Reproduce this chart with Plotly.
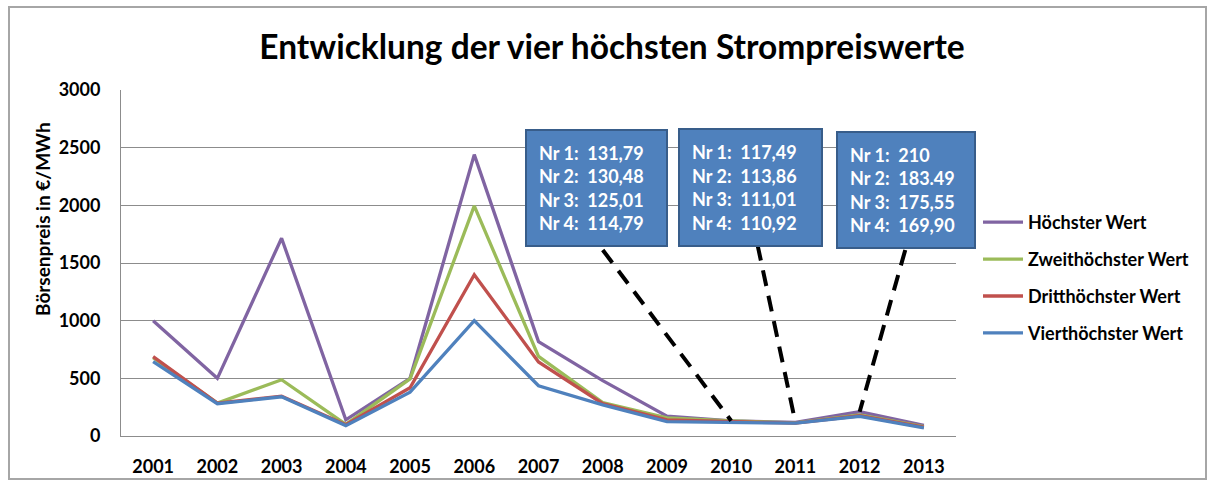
import plotly.graph_objects as go

years = ["2001", "2002", "2003", "2004", "2005", "2006", "2007",
         "2008", "2009", "2010", "2011", "2012", "2013"]

hoechster = [1000, 500, 1715, 140, 500, 2440, 818, 480, 172, 131.79, 117.49, 210, 92]
zweithoechster = [680, 285, 488, 100, 495, 1995, 690, 290, 158, 130.48, 113.86, 183.49, 82]
dritthoechster = [688, 285, 345, 98, 418, 1398, 642, 280, 140, 125.01, 111.01, 175.55, 76]
vierthoechster = [645, 280, 340, 90, 380, 1000, 436, 270, 124, 114.79, 110.92, 169.90, 70]

series_names = ["Höchster Wert", "Zweithöchster Wert", "Dritthöchster Wert", "Vierthöchster Wert"]
series_colors = ["#8064A2", "#9BBB59", "#C0504D", "#4F81BD"]

box_texts = [
    ["131,79", "130,48", "125,01", "114,79"],
    ["117,49", "113,86", "111,01", "110,92"],
    ["210", "183.49", "175,55", "169,90"],
]
box_years = ["2010", "2011", "2012"]

FONT = "Lato"
W, H = 1212, 483
L, R, T, B = 121, 956, 90, 436


def px2paper(px, py):
    return (px - L) / (R - L), (B - py) / (B - T)


fig = go.Figure()
for name, vals, col in zip(series_names, [hoechster, zweithoechster, dritthoechster, vierthoechster], series_colors):
    fig.add_trace(go.Scatter(x=years, y=vals, mode="lines", name=name,
                             legendgroup=name,
                             line=dict(color=col, width=3.3)))

# annotation boxes
box_geom = [(525, 129, 143, 118), (678, 128, 145, 119), (836, 131, 140, 118)]
annotations = []
pad = 12
bw = 2
for (bx, by, bwid, bhei), vals in zip(box_geom, box_texts):
    text = "<br>".join(f"Nr\u00a0{i+1}:\u00a0\u00a0{v}" for i, v in enumerate(vals))
    ax_, ay_ = px2paper(bx, by)
    annotations.append(dict(
        xref="paper", yref="paper", x=ax_, y=ay_, xanchor="left", yanchor="top",
        text=text, showarrow=False, align="left", valign="middle",
        width=bwid - 2 * pad - 2 * bw, height=bhei - 2 * pad - 2 * bw,
        bgcolor="#4F81BD", bordercolor="#385D8A", borderwidth=bw, borderpad=pad,
        font=dict(family=FONT, size=18, color="white", weight="bold"),
    ))

# y axis title as annotation
tx, ty = px2paper(43, 219)
annotations.append(dict(
    xref="paper", yref="paper", x=tx, y=ty, xanchor="center", yanchor="middle",
    text="Börsenpreis in €/MWh", textangle=-90, showarrow=False,
    font=dict(family=FONT, size=19, color="black", weight="bold"),
))

# dashed leader lines: from box bottom to data point
leader_tops = [(7.0, 1613), (9.41, 1657), (11.71, 1613)]
shapes = []
for (x0, y0), yr in zip(leader_tops, box_years):
    idx = years.index(yr)
    shapes.append(dict(type="line", xref="x", yref="y", x0=x0, y0=y0,
                       x1=idx, y1=hoechster[idx],
                       line=dict(color="black", width=4, dash="16px,10px")))

# outer chart frame
fx0, fy0 = px2paper(9, 7)
fx1, fy1 = px2paper(1206, 479)
shapes.append(dict(type="rect", xref="paper", yref="paper", x0=fx0, y0=fy1, x1=fx1, y1=fy0,
                   line=dict(color="#A6A6A6", width=2), layer="below"))

lx, ly = px2paper(978, 204)

fig.update_layout(
    width=W, height=H,
    margin=dict(l=L, r=W - R, t=T, b=H - B, pad=0, autoexpand=False),
    paper_bgcolor="white", plot_bgcolor="white",
    title=dict(text="Entwicklung der vier höchsten Strompreiswerte",
               x=612 / W, xanchor="center", y=1 - 47 / H, yanchor="middle",
               automargin=False,
               font=dict(family=FONT, size=33.5, color="black", weight="bold")),
    font=dict(family=FONT, color="black"),
    xaxis=dict(type="category", range=[-0.5, 12.5], automargin=False,
               showgrid=False, showline=True, linecolor="#8C8C8C",
               linewidth=1, ticks="", ticklabelstandoff=14,
               tickfont=dict(family=FONT, size=18, color="black", weight="bold")),
    yaxis=dict(range=[0, 3000], dtick=500, automargin=False,
               showgrid=True, gridcolor="#8C8C8C", gridwidth=1,
               showline=True, linecolor="#8C8C8C", linewidth=1, zeroline=False,
               ticks="", ticklabelstandoff=16,
               tickfont=dict(family=FONT, size=18, color="black", weight="bold")),
    legend=dict(x=lx, y=ly, xanchor="left", yanchor="top", bgcolor="rgba(0,0,0,0)",
                tracegroupgap=10.5, itemwidth=40,
                font=dict(family=FONT, size=18, color="black", weight="bold")),
    annotations=annotations,
    shapes=shapes,
    showlegend=True,
)

fig.write_html("out.html",
               config={"displayModeBar": False},
               post_script="document.body.style.margin='0';document.body.style.overflow='hidden';")
